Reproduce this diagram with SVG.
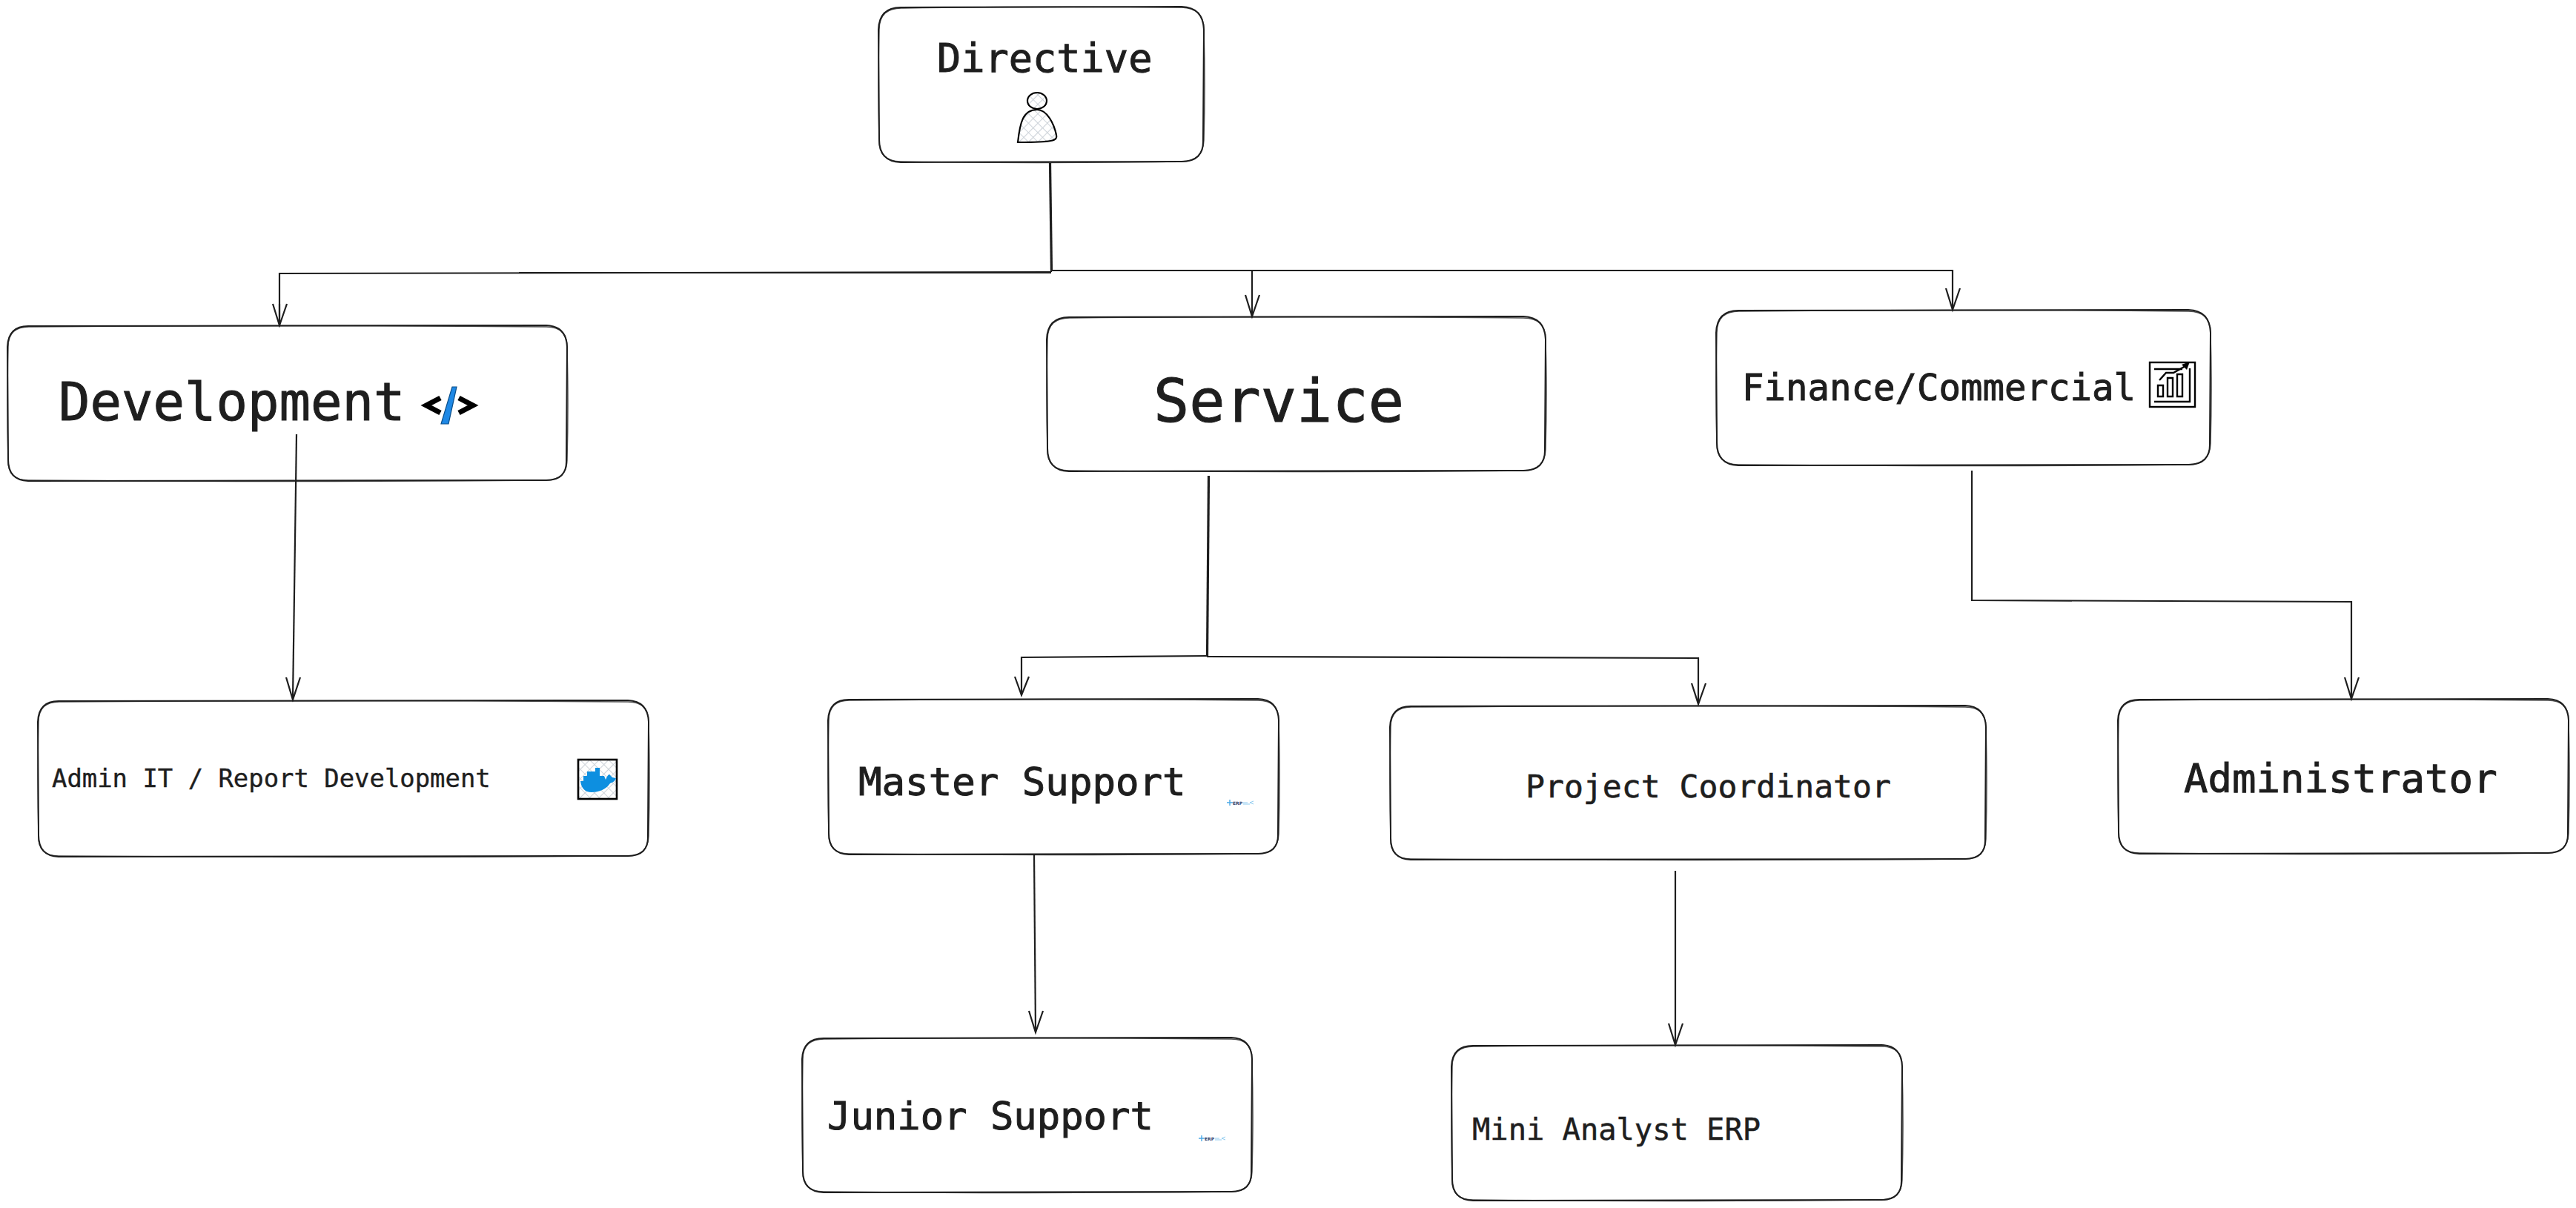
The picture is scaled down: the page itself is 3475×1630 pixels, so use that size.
<svg xmlns="http://www.w3.org/2000/svg" width="3475" height="1630" viewBox="0 0 3475 1630">
<style>
.bf{fill:#fff;stroke:none}
.bx{fill:none;stroke:#1e1e1e;stroke-width:2}
.bo{fill:none;stroke:#1e1e1e;stroke-width:1.5;opacity:.8}
.t{font-family:"DejaVu Sans Mono","Liberation Mono",monospace;fill:#1e1e1e;stroke:#1e1e1e;stroke-width:1}
.c{fill:none;stroke:#1e1e1e;stroke-width:2.2}
.a{fill:none;stroke:#1e1e1e;stroke-width:2.2;stroke-linejoin:miter}
.i{fill:none;stroke:#000;stroke-width:2.4}
.erp{font-family:"DejaVu Sans",sans-serif;font-weight:700;font-size:6px;fill:#2b3a67}
</style>
<defs>
<pattern id="h" width="9" height="9" patternUnits="userSpaceOnUse" patternTransform="rotate(45)"><rect width="9" height="9" fill="#fff"/><path d="M0 0H9M0 0V9" stroke="#ced4da" stroke-width="2.2"/></pattern>
<g id="erp"><path d="M-1 0h8M3 -4v8" stroke="#4aa8e6" stroke-width="1.4"/><text class="erp" x="7" y="2.5">ERP</text><path d="M21 0h6M21 2h9M30 0l5 -2M30 0l5 2" stroke="#8ecbf0" stroke-width="1"/></g>
</defs>
<rect width="3475" height="1630" fill="#fff"/>
<g id="directive">
<rect class="bf" x="1185" y="10" width="439" height="209" rx="30"/>
<path class="bx" d="M1215 10L1594 9Q1623 10 1624 40L1623 189Q1624 218 1594 218L1215 219Q1186 218 1186 188L1185 40Q1186 10 1215 10Z"/>
<path class="bo" d="M1218 11Q1400 8 1594 10Q1625 11 1624 42Q1626 115 1624 189Q1623 219 1591 218Q1400 221 1215 218Q1185 218 1186 188Q1184 115 1186 40Q1186 10 1218 11Z"/>
<text class="t" x="1264" y="97" font-size="53.6">Directive</text>
<path d="M1373 192C1376 165 1380 148 1399 148C1413 148 1422 168 1425 182C1427 190 1420 192 1373 192Z" fill="url(#h)" stroke="#000" stroke-width="2.2"/>
<ellipse cx="1399" cy="136" rx="13" ry="11" fill="url(#h)" stroke="#000" stroke-width="2.2"/>
</g>
<g id="development">
<rect class="bf" x="10" y="440" width="755" height="209" rx="26"/>
<path class="bx" d="M38 440L737 439Q764 440 765 468L764 621Q765 648 737 648L38 649Q11 648 11 620L10 468Q11 440 38 440Z"/>
<path class="bo" d="M41 441Q390 438 737 441Q766 441 765 470Q767 545 765 621Q764 649 734 648Q390 651 38 648Q10 648 11 620Q9 545 11 468Q11 440 41 441Z"/>
<text class="t" x="79" y="567" font-size="70.6">Development</text>
<path d="M594 537L575 547L594 557" fill="none" stroke="#000" stroke-width="7"/>
<path d="M619 537L638 547L619 557" fill="none" stroke="#000" stroke-width="7"/>
<path d="M610 522L616 522L605 572L595 572Z" fill="#1e88e5" stroke="#0b4f8a" stroke-width="1.2"/>
</g>
<g id="service">
<rect class="bf" x="1412" y="428" width="673" height="208" rx="30"/>
<path class="bx" d="M1442 428L2055 427Q2084 428 2085 458L2084 606Q2085 635 2055 635L1442 636Q1413 635 1413 605L1412 458Q1413 428 1442 428Z"/>
<path class="bo" d="M1445 429Q1750 426 2055 429Q2086 429 2085 460Q2087 530 2085 606Q2084 636 2052 635Q1750 638 1442 635Q1412 635 1413 605Q1411 530 1413 458Q1413 428 1445 429Z"/>
<text class="t" x="1556" y="569" font-size="80.2">Service</text>
</g>
<g id="finance">
<rect class="bf" x="2315" y="419" width="667" height="209" rx="30"/>
<path class="bx" d="M2345 419L2952 418Q2981 419 2982 449L2981 598Q2982 627 2952 627L2345 628Q2316 627 2316 597L2315 449Q2316 419 2345 419Z"/>
<path class="bo" d="M2348 420Q2650 417 2952 420Q2983 420 2982 451Q2984 525 2982 598Q2981 628 2949 627Q2650 630 2345 627Q2315 627 2316 597Q2314 525 2316 449Q2316 419 2348 420Z"/>
<text class="t" x="2350" y="540" font-size="49">Finance/Commercial</text>
<rect x="2900" y="489" width="61" height="60" fill="#fff" stroke="#000" stroke-width="2.4"/>
<path class="i" d="M2906 542H2954V497M2906 498H2944"/>
<path class="i" stroke-width="2" d="M2911 535V520H2918V535ZM2924 535V510H2931V535ZM2937 535V505H2944V535Z"/>
<path class="i" d="M2913 513L2922 503H2932L2948 494"/>
<path d="M2954 488L2943 492L2950 499Z" fill="#000"/>
</g>
<g id="admin-it">
<rect class="bf" x="51" y="946" width="824" height="210" rx="28"/>
<path class="bx" d="M79 946L847 945Q874 946 875 974L874 1128Q875 1155 847 1155L79 1156Q52 1155 52 1127L51 974Q52 946 79 946Z"/>
<path class="bo" d="M82 947Q460 944 847 947Q876 947 875 976Q877 1050 875 1128Q874 1156 844 1155Q460 1158 79 1155Q51 1155 52 1127Q50 1050 52 974Q52 946 82 947Z"/>
<text class="t" x="70" y="1062" font-size="33.9" style="stroke-width:.4">Admin IT / Report Development</text>
<rect x="780" y="1025" width="52" height="53" fill="url(#h)" stroke="#000" stroke-width="2.6"/>
<path d="M783 1054H787V1047H792V1041H803V1036H809V1047H815L817 1052C820 1045 822 1043 824 1047L826 1049L831 1050C830 1054 826 1056 823 1057C818 1065 808 1069 798 1069C789 1069 784 1063 783 1054Z" fill="#0d8fe0"/>
</g>
<g id="master-support">
<rect class="bf" x="1117" y="944" width="608" height="209" rx="28"/>
<path class="bx" d="M1145 944L1697 943Q1724 944 1725 972L1724 1125Q1725 1152 1697 1152L1145 1153Q1118 1152 1118 1124L1117 972Q1118 944 1145 944Z"/>
<path class="bo" d="M1148 945Q1420 942 1697 945Q1726 945 1725 974Q1727 1050 1725 1125Q1724 1153 1694 1152Q1420 1155 1145 1152Q1117 1152 1118 1124Q1116 1050 1118 972Q1118 944 1148 945Z"/>
<text class="t" x="1158" y="1073" font-size="52.4">Master Support</text>
<use href="#erp" x="1656" y="1083"/>
</g>
<g id="project-coordinator">
<rect class="bf" x="1875" y="953" width="804" height="207" rx="28"/>
<path class="bx" d="M1903 953L2651 952Q2678 953 2679 981L2678 1132Q2679 1159 2651 1159L1903 1160Q1876 1159 1876 1131L1875 981Q1876 953 1903 953Z"/>
<path class="bo" d="M1906 954Q2280 951 2651 954Q2680 954 2679 983Q2681 1055 2679 1132Q2678 1160 2648 1159Q2280 1162 1903 1159Q1875 1159 1876 1131Q1874 1055 1876 981Q1876 953 1906 954Z"/>
<text class="t" x="2058" y="1076" font-size="43.1" style="stroke-width:.6">Project Coordinator</text>
</g>
<g id="administrator">
<rect class="bf" x="2857" y="944" width="607" height="208" rx="28"/>
<path class="bx" d="M2886 944L3437 943Q3464 944 3465 972L3464 1124Q3465 1151 3437 1151L2886 1152Q2858 1151 2858 1123L2857 972Q2858 944 2886 944Z"/>
<path class="bo" d="M2889 945Q3160 942 3437 945Q3466 945 3465 974Q3467 1050 3465 1124Q3464 1152 3434 1151Q3160 1154 2886 1151Q2857 1151 2858 1123Q2856 1050 2858 972Q2858 944 2889 945Z"/>
<text class="t" x="2946" y="1069" font-size="54">Administrator</text>
</g>
<g id="junior-support">
<rect class="bf" x="1083" y="1401" width="606" height="208" rx="28"/>
<path class="bx" d="M1111 1401L1661 1400Q1688 1401 1689 1429L1688 1581Q1689 1608 1661 1608L1111 1609Q1083 1608 1083 1580L1082 1429Q1083 1401 1111 1401Z"/>
<path class="bo" d="M1114 1402Q1380 1399 1661 1402Q1690 1402 1689 1431Q1691 1505 1689 1581Q1688 1609 1658 1608Q1380 1611 1111 1608Q1082 1608 1083 1580Q1081 1505 1083 1429Q1083 1401 1114 1402Z"/>
<text class="t" x="1116" y="1524" font-size="52.2">Junior Support</text>
<use href="#erp" x="1618" y="1536"/>
</g>
<g id="mini-analyst">
<rect class="bf" x="1959" y="1411" width="607" height="209" rx="28"/>
<path class="bx" d="M1987 1411L2538 1410Q2565 1411 2566 1439L2565 1592Q2566 1619 2538 1619L1987 1620Q1959 1619 1959 1591L1958 1439Q1959 1411 1987 1411Z"/>
<path class="bo" d="M1990 1412Q2260 1409 2538 1412Q2567 1412 2566 1441Q2568 1515 2566 1592Q2565 1620 2535 1619Q2260 1622 1987 1619Q1958 1619 1959 1591Q1957 1515 1959 1439Q1959 1411 1990 1412Z"/>
<text class="t" x="1986" y="1538" font-size="40.4" style="stroke-width:.5">Mini Analyst ERP</text>
</g>
<g id="connectors">
<path class="c" d="M1416 220L1418 367"/><path class="c" d="M1417 220L1419 366"/>
<path class="c" d="M1418 367L377 369V438"/><path class="c" d="M1418 368L700 368"/>
<path class="c" d="M1418 365H1689V426"/>
<path class="c" d="M1418 365H2634V417"/>
<path class="a" d="M368 410L377 439L387 410M377 410V438"/>
<path class="a" d="M1680 398L1689 427L1699 398"/>
<path class="a" d="M2625 389L2634 418L2644 389"/>
<path class="c" d="M400 586L395 943"/>
<path class="a" d="M386 914L395 944L405 914"/>
<path class="c" d="M1630 642L1628 886"/><path class="c" d="M1631 642L1629 885"/>
<path class="c" d="M1628 885L1378 887V937"/>
<path class="c" d="M1628 886L2291 888V949"/>
<path class="a" d="M1369 913L1378 938L1388 913"/>
<path class="a" d="M2282 922L2291 950L2301 922"/>
<path class="c" d="M2660 635V810L3172 812V942"/>
<path class="a" d="M3163 914L3172 943L3182 914"/>
<path class="c" d="M1395 1153L1397 1392"/>
<path class="a" d="M1388 1364L1397 1393L1407 1364"/>
<path class="c" d="M2260 1175V1409"/>
<path class="a" d="M2251 1381L2260 1410L2270 1381"/>
</g>
</svg>
